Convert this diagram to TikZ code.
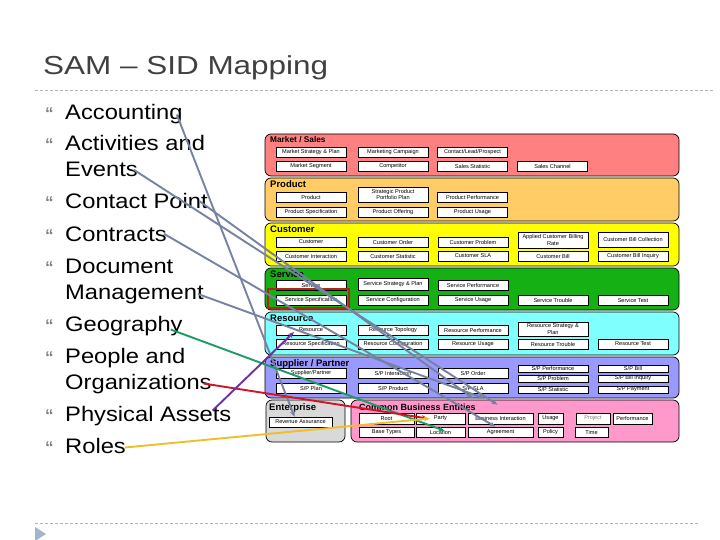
\documentclass[tikz,border=0pt]{standalone}
\usepackage{fontspec}
\setmainfont{Liberation Sans}
\newfontfamily\titlefont{Liberation Sans}[FakeStretch=1.21]
\newfontfamily\listfont{Liberation Sans}[FakeStretch=1.13]
\usepackage{xcolor}
\usetikzlibrary{arrows.meta}
\definecolor{titlegrey}{RGB}{64, 64, 64}
\definecolor{rulegrey}{RGB}{180, 180, 180}
\definecolor{bulgrey}{RGB}{128, 128, 128}
\definecolor{trigrey}{RGB}{163, 181, 204}
\definecolor{mktfill}{RGB}{255, 128, 128}
\definecolor{prdfill}{RGB}{255, 204, 102}
\definecolor{cstfill}{RGB}{255, 255, 0}
\definecolor{svcfill}{RGB}{20, 176, 20}
\definecolor{rscfill}{RGB}{128, 255, 255}
\definecolor{supfill}{RGB}{153, 153, 255}
\definecolor{entfill}{RGB}{217, 217, 217}
\definecolor{cbefill}{RGB}{255, 153, 204}
\definecolor{hilite}{RGB}{170, 40, 20}
\definecolor{linkgrey}{RGB}{118, 130, 160}
\definecolor{linkgeo}{RGB}{30, 155, 100}
\definecolor{linkorg}{RGB}{210, 20, 40}
\definecolor{linkphy}{RGB}{112, 48, 160}
\definecolor{linkrol}{RGB}{240, 190, 40}

\tikzset{
  entity/.style={draw, fill=white, line width=0.5pt, inner sep=0pt, minimum width=70pt,
    minimum height=10pt, align=center, font=\fontsize{5.6}{6.2}\selectfont},
  band/.style={draw, line width=0.7pt, rounded corners=6pt},
  bandhead/.style={anchor=base west, inner sep=0pt, font=\bfseries\fontsize{9.5}{10}\selectfont},
  listitem/.style={anchor=base west, inner sep=0pt, font=\listfont\fontsize{21}{24}\selectfont},
  bulletmark/.style={anchor=base west, inner sep=0pt, text=bulgrey, font=\bfseries\fontsize{17}{17}\selectfont},
  dashrule/.style={color=rulegrey, line width=0.8pt, dash pattern=on 3pt off 2pt},
  maplink/.style={line width=1.9pt, -{Stealth[length=6pt,width=5pt]}},
}

\begin{document}
\begin{tikzpicture}[x=1pt, y=-1pt]
      \useasboundingbox (0,0) rectangle (720,540);
      \node[anchor=base west, inner sep=0pt, text=titlegrey, font=\titlefont\fontsize{26}{30}\selectfont] (title) at (43,75) {SAM – SID Mapping};
      \draw[dashrule] (35,90)--(715,90);
      \draw[dashrule] (35,523)--(700,523);
      \fill[color=trigrey] (35,527)--(35,541)--(46,534)--cycle;

      \node[bulletmark] (b1) at (45,120) {“};
      \node[listitem] (acc) at (65,120) {Accounting};
      \node[bulletmark] (b2) at (45,151) {“};
      \node[listitem] (act) at (65,151) {Activities and};
      \node[listitem] (evt) at (65,177) {Events};
      \node[bulletmark] (b3) at (45,209) {“};
      \node[listitem] (cpt) at (65,209) {Contact Point};
      \node[bulletmark] (b4) at (45,241) {“};
      \node[listitem] (ctr) at (65,241) {Contracts};
      \node[bulletmark] (b5) at (45,273) {“};
      \node[listitem] (doc) at (65,273) {Document};
      \node[listitem] (mgt) at (65,299) {Management};
      \node[bulletmark] (b6) at (45,331) {“};
      \node[listitem] (geo) at (65,331) {Geography};
      \node[bulletmark] (b7) at (45,363) {“};
      \node[listitem] (ppl) at (65,363) {People and};
      \node[listitem] (org) at (65,389) {Organizations};
      \node[bulletmark] (b8) at (45,421) {“};
      \node[listitem] (phy) at (65,421) {Physical Assets};
      \node[bulletmark] (b9) at (45,453) {“};
      \node[listitem] (rol) at (65,453) {Roles};

      \draw[band, fill=mktfill] (265,134) rectangle (679,176);
      \draw[band, fill=prdfill] (265,178) rectangle (679,221);
      \draw[band, fill=cstfill] (265,223) rectangle (679,266);
      \draw[band, fill=svcfill] (265,268) rectangle (679,310);
      \draw[band, fill=rscfill] (265,312) rectangle (679,355);
      \draw[band, fill=supfill] (265,357) rectangle (679,398);
      \draw[band, fill=entfill] (266,400) rectangle (345,442);
      \draw[band, fill=cbefill] (351,400) rectangle (679,442);

      \node[bandhead, font=\bfseries\fontsize{8.3}{9}\selectfont] (hmkt) at (270,143) {Market / Sales};
      \node[bandhead] (hprd) at (270,188) {Product};
      \node[bandhead] (hcst) at (270,233) {Customer};
      \node[bandhead] (hsvc) at (270,277) {Service};
      \node[bandhead] (hrsc) at (270,321) {Resource};
      \node[bandhead] (hsup) at (270,366) {Supplier / Partner};
      \node[bandhead] (hent) at (269,410) {Enterprise};
      \node[bandhead, font=\bfseries\fontsize{9}{10}\selectfont] (hcbe) at (359,410) {Common Business Entities};

      \node[entity] (mktstrat) at (311,152.5) {Market Strategy \& Plan};
      \node[entity] (mktcamp) at (393,152.5) {Marketing Campaign};
      \node[entity] (contact) at (472.5,152.5) {Contact/Lead/Prospect};
      \node[entity] (mktseg) at (311,166.5) {Market Segment};
      \node[entity] (compet) at (393,166.5) {Competitor};
      \node[entity] (salesstat) at (472.5,166.5) {Sales Statistic};
      \node[entity] (saleschan) at (552.5,166.5) {Sales Channel};

      \node[entity] (prod) at (311,197) {Product};
      \node[entity, minimum height=15pt] (prodstrat) at (393,194.5) {Strategic Product\\Portfolio Plan};
      \node[entity] (prodperf) at (472.5,197) {Product Performance};
      \node[entity] (prodspec) at (311,212) {Product Specification};
      \node[entity] (prodoff) at (393,212) {Product Offering};
      \node[entity] (produse) at (472.5,212) {Product Usage};

      \node[entity] (cust) at (311,242) {Customer};
      \node[entity] (custord) at (393,242) {Customer Order};
      \node[entity] (custprob) at (473,242) {Customer Problem};
      \node[entity, minimum height=16pt] (custrate) at (553,240) {Applied Customer Billing\\Rate};
      \node[entity, minimum height=15pt] (custcoll) at (633,239.5) {Customer Bill Collection};
      \node[entity] (custint) at (311,256) {Customer Interaction};
      \node[entity] (custstat) at (393,256) {Customer Statistic};
      \node[entity] (custsla) at (473,256) {Customer SLA};
      \node[entity] (custbill) at (553,256.5) {Customer Bill};
      \node[entity] (custinq) at (633,256.5) {Customer Bill Inquiry};

      \node[entity] (svc) at (311,285.5) {Service};
      \node[entity, minimum height=12pt] (svcstrat) at (393,284) {Service Strategy \& Plan};
      \node[entity] (svcperf) at (473,285.5) {Service Performance};
      \node[entity] (svcspec) at (311,300.5) {Service Specification};
      \node[entity] (svcconf) at (393,300.5) {Service Configuration};
      \node[entity] (svcuse) at (473,300.5) {Service Usage};
      \node[entity] (svctrbl) at (553,300.5) {Service Trouble};
      \node[entity] (svctest) at (633,300.5) {Service Test};
      \draw[color=hilite, line width=1.6pt] (268,289) rectangle (349,308);

      \node[entity] (rsc) at (311,330) {Resource};
      \node[entity] (rsctopo) at (393,330) {Resource Topology};
      \node[entity] (rscperf) at (473,330) {Resource Performance};
      \node[entity, minimum height=14pt] (rscstrat) at (553,329) {Resource Strategy \&\\Plan};
      \node[entity] (rscspec) at (311,344) {Resource Specification};
      \node[entity] (rscconf) at (393,344) {Resource Configuration};
      \node[entity] (rscuse) at (473,344) {Resource Usage};
      \node[entity] (rsctrbl) at (553,344) {Resource Trouble};
      \node[entity] (rsctest) at (633,344) {Resource Test};

      \node[entity] (sp) at (311,373) {Supplier/Partner};
      \node[entity] (spint) at (393,373) {S/P Interaction};
      \node[entity] (sporder) at (473,373) {S/P Order};
      \node[entity] (spplan) at (311,388) {S/P Plan};
      \node[entity] (spprod) at (393,388) {S/P Product};
      \node[entity] (spsla) at (473,388) {S/P SLA};
      \node[entity, minimum height=7pt] (spperf) at (553,368.5) {S/P Performance};
      \node[entity, minimum height=7pt] (spprob) at (553,378.5) {S/P Problem};
      \node[entity, minimum height=7pt] (spstat) at (553,389.5) {S/P Statistic};
      \node[entity, minimum height=7pt] (spbill) at (633,368.5) {S/P Bill};
      \node[entity, minimum height=7pt] (spinq) at (633,378.5) {S/P Bill Inquiry};
      \node[entity, minimum height=7pt] (sppay) at (633,389.5) {S/P Payment};

      \node[entity, minimum width=63pt] (revass) at (300.5,422) {Revenue Assurance};

      \node[entity, minimum width=55pt, minimum height=11pt] (root) at (386.5,418.5) {Root};
      \node[entity, minimum width=49pt, minimum height=11pt] (party) at (440.5,418.5) {Party};
      \node[entity, minimum width=65pt, minimum height=11pt] (bint) at (500.5,418.5) {Business Interaction};
      \node[entity, minimum width=25pt, minimum height=11pt] (usage) at (550.5,418.5) {Usage};
      \node[entity, minimum width=34pt, minimum height=11pt, text=gray] (project) at (593,418.5) {Project};
      \node[entity, minimum width=39pt, minimum height=11pt] (perf) at (632.5,418.5) {Performance};
      \node[entity, minimum width=55pt] (basetypes) at (386.5,432) {Base Types};
      \node[entity, minimum width=49pt] (loc) at (440.5,432) {Location};
      \node[entity, minimum width=65pt] (agr) at (500.5,432) {Agreement};
      \node[entity, minimum width=25pt] (policy) at (550.5,432) {Policy};
      \node[entity, minimum width=33pt] (time) at (591.5,432) {Time};

      \draw[maplink, color=linkgrey] ([xshift=-6pt]acc.east)--([xshift=-6pt]revass.north);
      \draw[maplink, color=linkgrey] ([xshift=-4pt]evt.east)--([xshift=-3pt, yshift=8pt]bint.north);
      \draw[maplink, color=linkgrey] ([xshift=-8pt]cpt.east)--([yshift=-5pt]spsla.south);
      \draw[maplink, color=linkgrey] ([xshift=-3pt]ctr.east)--([xshift=-5pt]agr.north);
      \draw[maplink, color=linkgrey] ([xshift=-6pt]mgt.east)--([xshift=11pt, yshift=-5pt]spsla.south);
      \draw[maplink, color=linkgeo] ([xshift=-12pt, yshift=-4pt]geo.east)--([xshift=4pt, yshift=-4pt]loc.north);
      \draw[maplink, color=linkorg] ([xshift=-8pt]org.east)--([xshift=12pt]party.west);
      \draw[maplink, color=linkphy] ([xshift=-19pt, yshift=5pt]phy.east)--([xshift=-17pt, yshift=-2pt]rsc.center);
      \draw[maplink, color=linkrol] ([xshift=-1pt, yshift=-2pt]rol.east)--([xshift=14pt]party.west);
    \end{tikzpicture}
\end{document}
